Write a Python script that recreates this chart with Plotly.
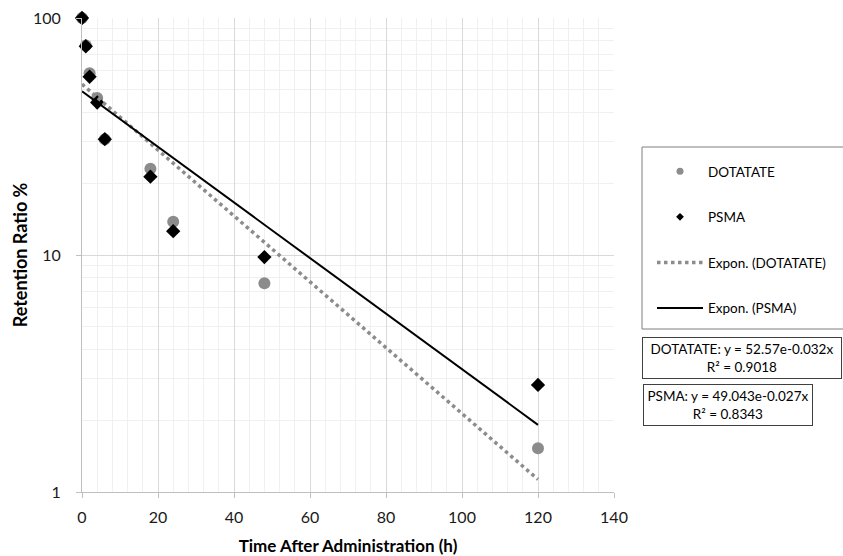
import numpy as np
import plotly.graph_objects as go

# ---- data ----
time_h = [0, 1, 2, 4, 6, 18, 24, 48, 120]
dotatate = [100, 76.5, 58.5, 46, 30.8, 23.1, 13.8, 7.6, 1.53]
psma = [100, 76, 56.5, 44, 30.8, 21.4, 12.6, 9.8, 2.83]

# exponential trendlines as displayed on the chart: y = a * e^(b x)
trend_names = ["Expon. (DOTATATE)", "Expon. (PSMA)"]
trend_a = [52.57, 49.043]
trend_b = [-0.032, -0.027]
trend_r2 = ["0.9018", "0.8343"]
trend_x = [0, 120]

x_ticks = [0, 20, 40, 60, 80, 100, 120, 140]
y_ticks = [1, 10, 100]
y_minor = [v * m for m in (1, 10) for v in range(2, 10)]

FONT = "Lato"
GRAY = "#8c8c8c"

# plot-area pixel geometry helpers (for placing legend / boxes in paper coords)
L, R, T, B = 82, 614, 18, 492
def px_x(p): return (p - L) / (R - L)
def px_y(p): return (B - p) / (B - T)

fig = go.Figure()

fig.add_trace(go.Scatter(x=time_h, y=dotatate, mode="markers", showlegend=False, cliponaxis=False,
                         marker=dict(symbol="circle", size=12, color=GRAY)))
fig.add_trace(go.Scatter(x=time_h, y=psma, mode="markers", showlegend=False, cliponaxis=False,
                         marker=dict(symbol="diamond", size=11, color="black")))

tx = np.array(trend_x, dtype=float)
fig.add_trace(go.Scatter(x=tx, y=trend_a[0] * np.exp(trend_b[0] * tx), mode="lines",
                         showlegend=False, line=dict(color=GRAY, width=3.5, dash="dot")))
fig.add_trace(go.Scatter(x=tx, y=trend_a[1] * np.exp(trend_b[1] * tx), mode="lines",
                         showlegend=False, line=dict(color="black", width=2)))

# legend proxies
fig.add_trace(go.Scatter(x=[None], y=[None], mode="markers", name="DOTATATE", legendgroup="a",
                         marker=dict(symbol="circle", size=7, color=GRAY)))
fig.add_trace(go.Scatter(x=[None], y=[None], mode="markers", name="PSMA", legendgroup="b",
                         marker=dict(symbol="diamond", size=6, color="black")))
fig.add_trace(go.Scatter(x=[None], y=[None], mode="lines", name=trend_names[0], legendgroup="c",
                         line=dict(color=GRAY, width=3.5, dash="dot")))
fig.add_trace(go.Scatter(x=[None], y=[None], mode="lines", name=trend_names[1], legendgroup="d",
                         line=dict(color="black", width=2)))

fig.update_layout(
    width=843, height=556,
    margin=dict(l=L, r=843 - R, t=T, b=556 - B, autoexpand=False),
    paper_bgcolor="white", plot_bgcolor="white",
    font=dict(family=FONT, size=13, color="black"),
    legend=dict(x=px_x(652), y=px_y(156), xanchor="left", yanchor="top",
                borderwidth=0, bgcolor="rgba(0,0,0,0)",
                font=dict(family=FONT, size=13.5, color="black"),
                tracegroupgap=25, itemwidth=46),
    xaxis=dict(range=[0, 140], tickvals=x_ticks, ticktext=[str(v) for v in x_ticks],
               showgrid=True, gridcolor="#d9d9d9", gridwidth=1,
               showline=True, linecolor="#bfbfbf", linewidth=1,
               ticks="outside", ticklen=5, tickcolor="#bfbfbf", ticklabelstandoff=6,
               tickfont=dict(family=FONT, size=16, color="#1a1a1a"),
               minor=dict(dtick=4, showgrid=True, gridcolor="#f0f0f0", gridwidth=1),
               zeroline=False,
               title=dict(text="<b>Time After Administration (h)</b>",
                          font=dict(family=FONT, size=17, color="black"), standoff=16)),
    yaxis=dict(type="log", range=[0, 2], tickvals=y_ticks, ticktext=[str(v) for v in y_ticks],
               showgrid=True, gridcolor="#d9d9d9", gridwidth=1,
               showline=True, linecolor="#bfbfbf", linewidth=1,
               ticks="outside", ticklen=5, tickcolor="#bfbfbf", ticklabelstandoff=12,
               tickfont=dict(family=FONT, size=16, color="#1a1a1a"),
               minor=dict(tickvals=y_minor, showgrid=True, gridcolor="#f0f0f0", gridwidth=1),
               zeroline=False,
               title=dict(text="<b>Retention Ratio %</b>",
                          font=dict(family=FONT, size=18, color="black"), standoff=0)),
)

# legend frame
fig.add_shape(type="rect", xref="paper", yref="paper",
              x0=px_x(642), x1=px_x(860), y0=px_y(329), y1=px_y(147),
              line=dict(color="#7f7f7f", width=1), fillcolor="rgba(0,0,0,0)", layer="above")

# trendline equation boxes: (label, index, left px, center-y px, box width px)
box_specs = [("DOTATATE", 0, 642, 358, 200), ("PSMA", 1, 643, 405, 170)]
for label, i, left, cy, w in box_specs:
    txt = f"{label}: y = {trend_a[i]}e{trend_b[i]}x<br>R² = {trend_r2[i]}"
    fig.add_annotation(x=px_x(left), y=px_y(cy), xref="paper", yref="paper",
                       xanchor="left", yanchor="middle",
                       text=txt, showarrow=False, align="center", width=w - 8,
                       font=dict(family=FONT, size=13.5, color="black"),
                       bordercolor="#404040", borderwidth=1, borderpad=3, bgcolor="white")

fig.write_html("out.html")
